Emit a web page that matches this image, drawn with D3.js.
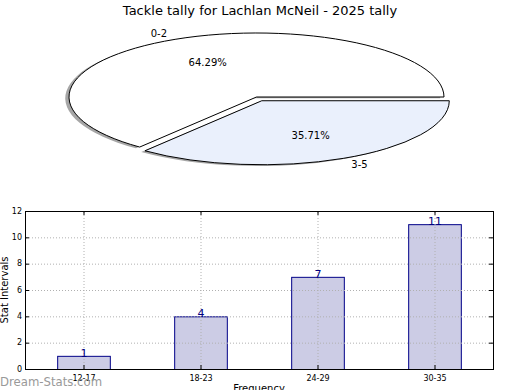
<!DOCTYPE html>
<html><head><meta charset="utf-8">
<script src="https://cdn.jsdelivr.net/npm/d3@7"></script>
<style>body{margin:0;background:#fff}svg{display:block;font-family:"DejaVu Sans",sans-serif}</style>
</head><body>
<script>
const title = "Tackle tally for Lachlan McNeil - 2025 tally";
const pieLabels = ["0-2", "3-5"];
const pieValues = [9, 5];
const pieColors = ["#ffffff", "#eaf0fc"];
const pieExplode = [0, 0.065];
const barCategories = ["12-17", "18-23", "24-29", "30-35"];
const barValues = [1, 4, 7, 11];
const yTicks = [0, 2, 4, 6, 8, 10, 12];

const W = 520, H = 390;
const svg = d3.select("body").append("svg").attr("width", W).attr("height", H);

svg.append("text").attr("x", 260).attr("y", 15).attr("text-anchor", "middle")
  .attr("font-size", 13).text(title);

// ---------- Pie ----------
const cx = 256.5, cy = 97, rx = 187.5, ry = 64;
const total = d3.sum(pieValues);
const pie = d3.pie().sort(null).startAngle(Math.PI / 2).endAngle(Math.PI / 2 - 2 * Math.PI);
const arcs = pie(pieValues);
const arc = d3.arc().innerRadius(0).outerRadius(1);
const pg = svg.append("g");
function off(d, i) {
  const mid = (d.startAngle + d.endAngle) / 2;
  const e = pieExplode[i];
  return [cx + e * Math.sin(mid) * rx, cy - e * Math.cos(mid) * ry];
}
arcs.forEach((d, i) => {
  const [ox, oy] = off(d, i);
  pg.append("path").attr("d", arc(d))
    .attr("transform", `translate(${ox - 0.02 * rx},${oy + 0.02 * ry}) scale(${rx},${ry})`)
    .attr("fill", "#4d4d4d").attr("fill-opacity", 0.5);
});
arcs.forEach((d, i) => {
  const [ox, oy] = off(d, i);
  pg.append("path").attr("d", arc(d))
    .attr("transform", `translate(${ox},${oy}) scale(${rx},${ry})`)
    .attr("fill", pieColors[i]).attr("stroke", "#000").attr("stroke-width", 1)
    .attr("vector-effect", "non-scaling-stroke");
});
arcs.forEach((d, i) => {
  const [ox, oy] = off(d, i);
  const mid = (d.startAngle + d.endAngle) / 2;
  const s = Math.sin(mid), c = Math.cos(mid);
  pg.append("text").attr("x", ox + 1.1 * s * rx).attr("y", oy - 1.1 * c * ry)
    .attr("dy", "0.35em").attr("font-size", 10)
    .attr("text-anchor", s < 0 ? "end" : "start").text(pieLabels[i]);
  pg.append("text").attr("x", ox + 0.6 * s * rx).attr("y", oy - 0.6 * c * ry)
    .attr("dy", "0.35em").attr("font-size", 10).attr("text-anchor", "middle")
    .text((100 * pieValues[i] / total).toFixed(2) + "%");
});

// ---------- Bars ----------
const L = 25, R = 493, T = 211, B = 369;
const x = d3.scaleBand().domain(barCategories).range([L, R]).paddingInner(0.55).paddingOuter(0.275);
const y = d3.scaleLinear().domain([0, 12]).range([B, T]);
const bg = svg.append("g");
const xc = c => x(c) + x.bandwidth() / 2 + 0.5;
bg.selectAll(".bar").data(barValues).enter().append("rect")
  .attr("x", (d, i) => x(barCategories[i]) + 0.5)
  .attr("y", d => y(d) + 0.5)
  .attr("width", x.bandwidth())
  .attr("height", d => B - y(d))
  .attr("fill", "#ccccE5").attr("stroke", "#000088").attr("stroke-width", 1);
bg.selectAll(".hg").data(yTicks.slice(1, -1)).enter().append("line")
  .attr("x1", L + 1).attr("x2", R).attr("y1", d => y(d) + 0.5).attr("y2", d => y(d) + 0.5)
  .attr("stroke", "#b0b0b0").attr("stroke-dasharray", "1,2");
bg.selectAll(".vg").data(barCategories).enter().append("line")
  .attr("x1", xc).attr("x2", xc).attr("y1", T + 1).attr("y2", B)
  .attr("stroke", "#b0b0b0").attr("stroke-dasharray", "1,2");
bg.selectAll(".vl").data(barValues).enter().append("text")
  .attr("x", (d, i) => xc(barCategories[i]))
  .attr("y", d => y(d) + 1)
  .attr("text-anchor", "middle").attr("font-size", 11).attr("fill", "#000080")
  .text(d => d);
bg.append("rect").attr("x", L + 0.5).attr("y", T + 0.5).attr("width", R - L).attr("height", B - T)
  .attr("fill", "none").attr("stroke", "#000");
yTicks.forEach(t => {
  bg.append("line").attr("x1", L).attr("x2", L + 4).attr("y1", y(t) + 0.5).attr("y2", y(t) + 0.5).attr("stroke", "#000");
  bg.append("line").attr("x1", R - 4).attr("x2", R).attr("y1", y(t) + 0.5).attr("y2", y(t) + 0.5).attr("stroke", "#000");
  bg.append("text").attr("x", L - 3).attr("y", y(t)).attr("dy", "0.35em")
    .attr("text-anchor", "end").attr("font-size", 8).text(t);
});
barCategories.forEach(c => {
  bg.append("line").attr("x1", xc(c)).attr("x2", xc(c)).attr("y1", T).attr("y2", T + 4).attr("stroke", "#000");
  bg.append("line").attr("x1", xc(c)).attr("x2", xc(c)).attr("y1", B - 4).attr("y2", B).attr("stroke", "#000");
  bg.append("text").attr("x", xc(c)).attr("y", B + 12).attr("text-anchor", "middle")
    .attr("font-size", 8).text(c);
});
svg.append("text").attr("transform", `translate(8,${(T + B) / 2}) rotate(-90)`)
  .attr("text-anchor", "middle").attr("font-size", 10).text("Stat Intervals");
svg.append("text").attr("x", 259).attr("y", 392).attr("text-anchor", "middle")
  .attr("font-size", 10).text("Frequency");
svg.append("text").attr("x", 0).attr("y", 386).attr("font-size", 13)
  .attr("font-family", "'DejaVu Sans Condensed', 'DejaVu Sans', sans-serif")
  .attr("fill", "#999999").text("Dream-Stats.com");
</script>
</body></html>
